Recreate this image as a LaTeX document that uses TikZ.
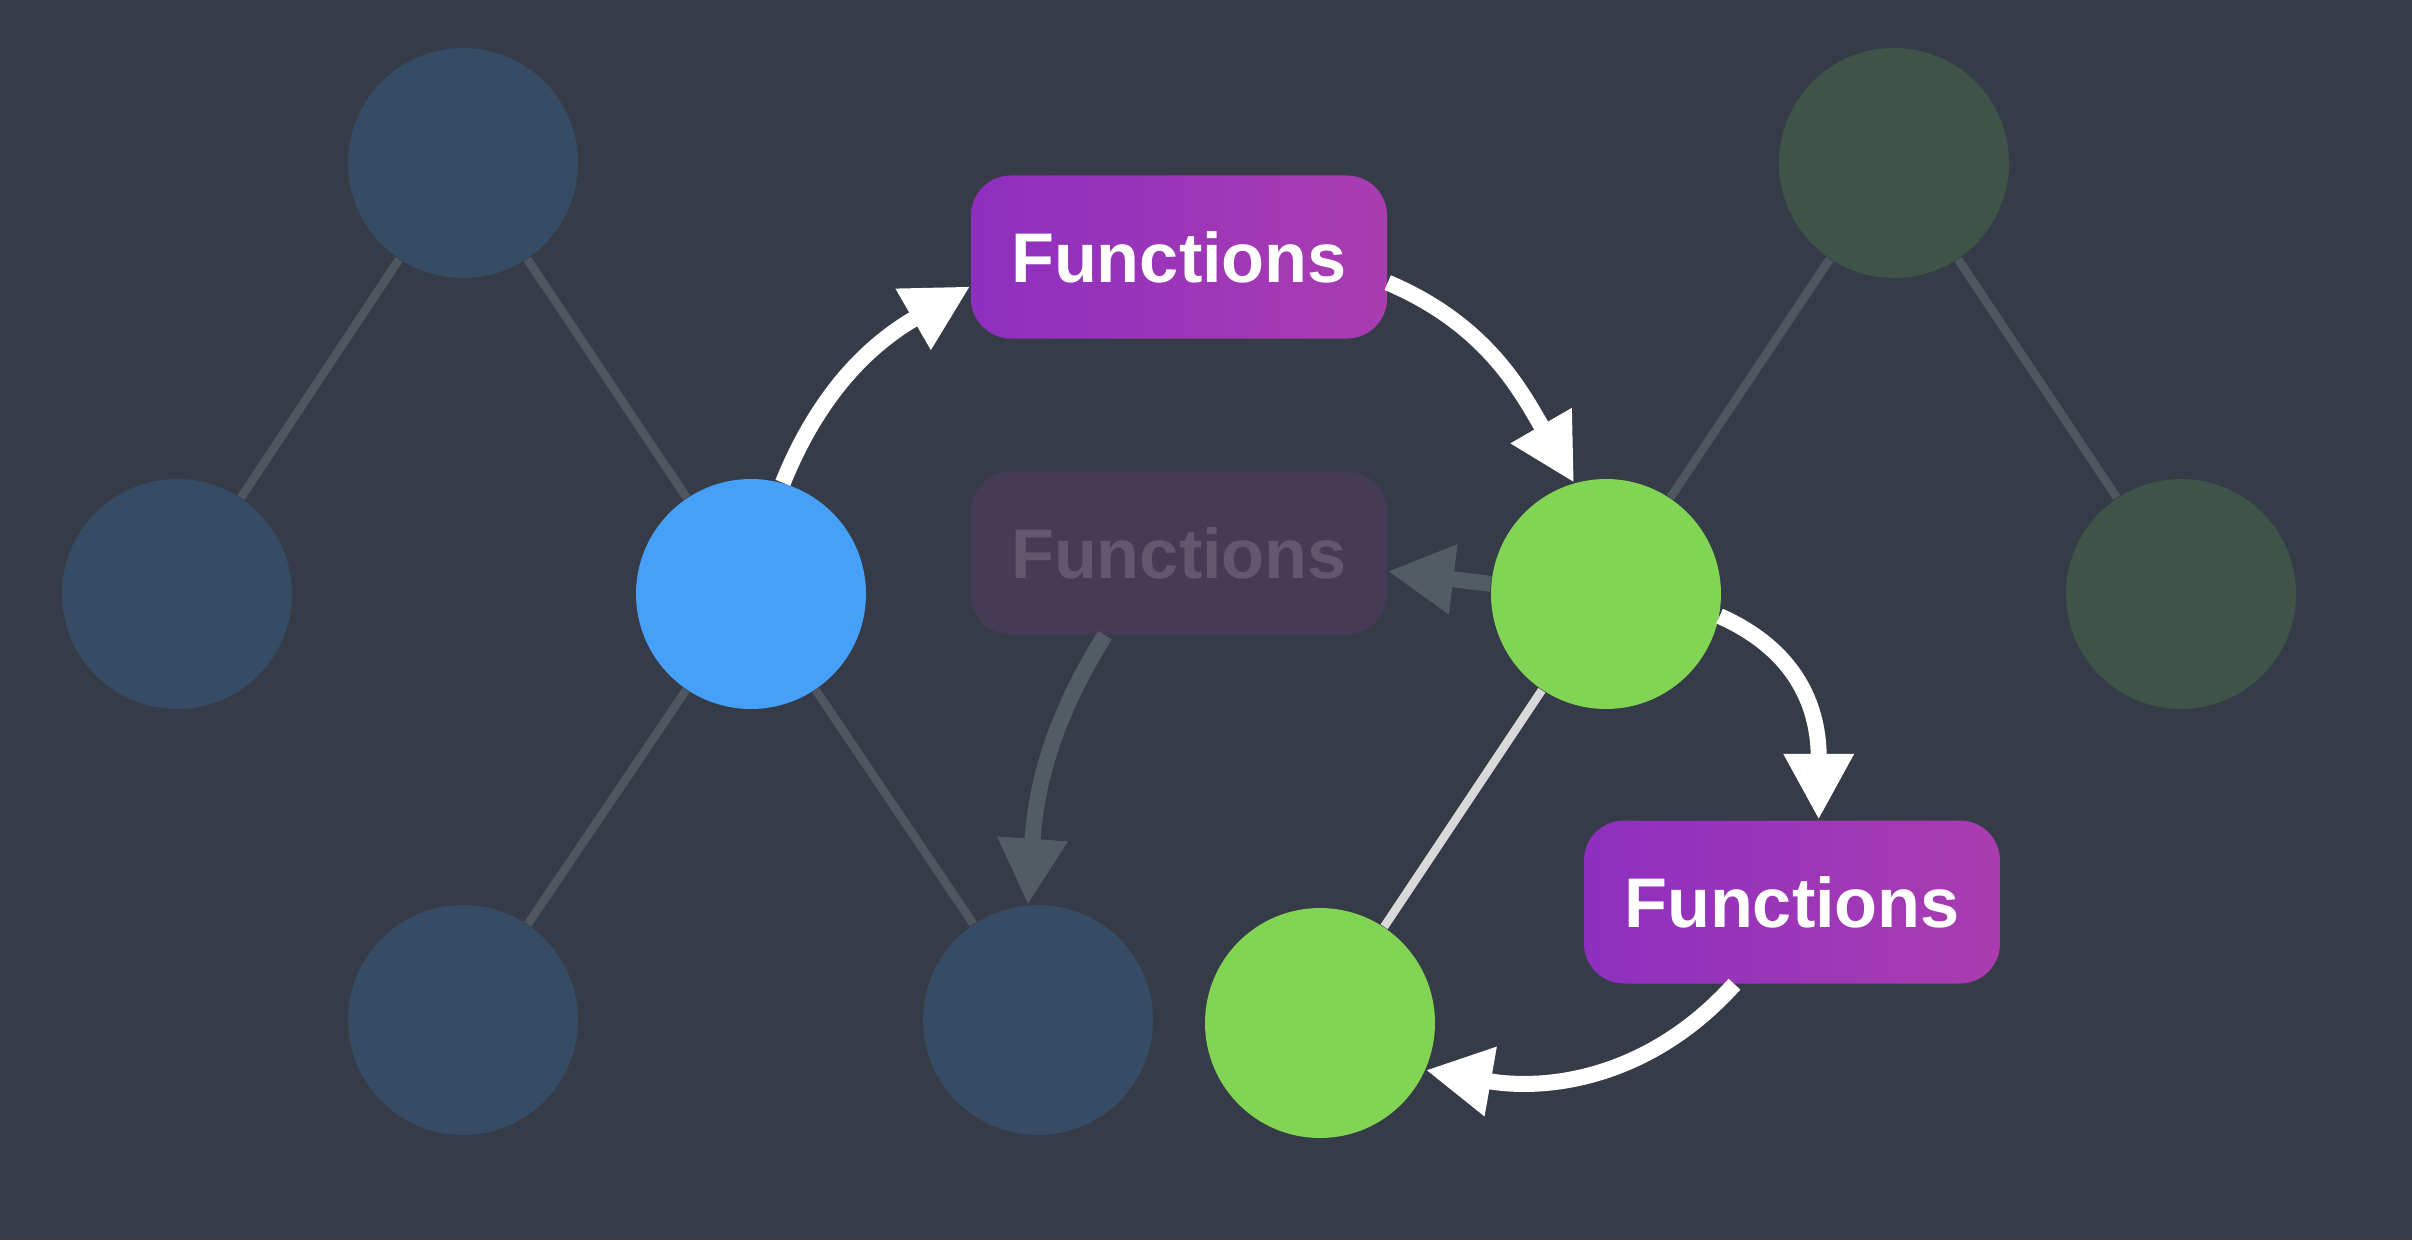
\documentclass[tikz,border=0pt]{standalone}
\usepackage{fontspec}
\setmainfont{Liberation Sans}
\usepackage{tikz}
\usetikzlibrary{arrows.meta}
\definecolor{bgcol}{HTML}{353C47}
\definecolor{dimblue}{HTML}{354C64}
\definecolor{dimgreen}{HTML}{3E5448}
\definecolor{nodeblue}{HTML}{46A0F7}
\definecolor{nodegreen}{HTML}{82D455}
\definecolor{fnleft}{HTML}{8E2FC0}
\definecolor{fnright}{HTML}{AA3CB0}
\definecolor{fnfaded}{HTML}{453B57}
\definecolor{fnfadedtext}{HTML}{615870}
\definecolor{edgegray}{HTML}{4F5660}
\definecolor{arrowgray}{HTML}{535B64}
\definecolor{edgelight}{HTML}{D9D9D9}
\tikzset{vertex/.style={circle, inner sep=0pt, minimum size=2.3cm}}
\tikzset{fnbox/.style={rectangle, rounded corners=0.4cm, inner sep=0pt,
      minimum width=4.16cm, minimum height=1.63cm,
      font=\bfseries\fontsize{20pt}{24pt}\selectfont}}
\tikzset{flow/.style={line width=0.16cm, -{Triangle[length=0.66cm,width=0.66cm]}}}

\begin{document}
\begin{tikzpicture}
		\fill[bgcol] (0,0) rectangle (24.12,12.4);
		\useasboundingbox (0,0) rectangle (24.12,12.4);
		% left tree
		\node[vertex, fill=dimblue] (top) at (4.63,10.77) {};
		\node[vertex, fill=dimblue] (left) at (1.77,6.46) {};
		\node[vertex, fill=nodeblue] (blue) at (7.51,6.46) {};
		\node[vertex, fill=dimblue] (lowleft) at (4.63,2.20) {};
		\node[vertex, fill=dimblue] (lowmid) at (10.38,2.20) {};
		% right tree
		\node[vertex, fill=dimgreen] (gtop) at (18.94,10.77) {};
		\node[vertex, fill=dimgreen] (gright) at (21.81,6.46) {};
		\node[vertex, fill=nodegreen] (green) at (16.06,6.46) {};
		\node[vertex, fill=nodegreen] (glow) at (13.20,2.17) {};
		% functions
		\node[fnbox, left color=fnleft, right color=fnright, text=white] (fa) at (11.79,9.83) {Functions};
		\node[fnbox, fill=fnfaded, text=fnfadedtext] (fb) at (11.79,6.87) {Functions};
		\node[fnbox, left color=fnleft, right color=fnright, text=white] (fc) at (17.92,3.38) {Functions};
		% edges
		\draw[edgegray, line width=0.085cm] (top) -- (left);
		\draw[edgegray, line width=0.085cm] (top) -- (blue);
		\draw[edgegray, line width=0.085cm] (blue) -- (lowleft);
		\draw[edgegray, line width=0.085cm] (blue) -- (lowmid);
		\draw[edgegray, line width=0.085cm] (gtop) -- (green);
		\draw[edgegray, line width=0.085cm] (gtop) -- (gright);
		\draw[edgelight, line width=0.085cm] (green) -- (glow);
		% faded arrows
		\draw[flow, arrowgray] (green.175) -- (fb.355);
		\draw[flow, arrowgray] (fb.228) to[out=238, in=86] (lowmid.95);
		% white arrows
		\draw[flow, white] (blue.74) to[out=68, in=210] (fa.188);
		\draw[flow, white] (fa.353) to[out=-23, in=120] (green.106);
		\draw[flow, white] (green.349) to[out=-24, in=90, looseness=1.1] (fc.72);
		\draw[flow, white] (fc.235) to[out=228, in=-10] (glow.336);
\end{tikzpicture}
\end{document}
